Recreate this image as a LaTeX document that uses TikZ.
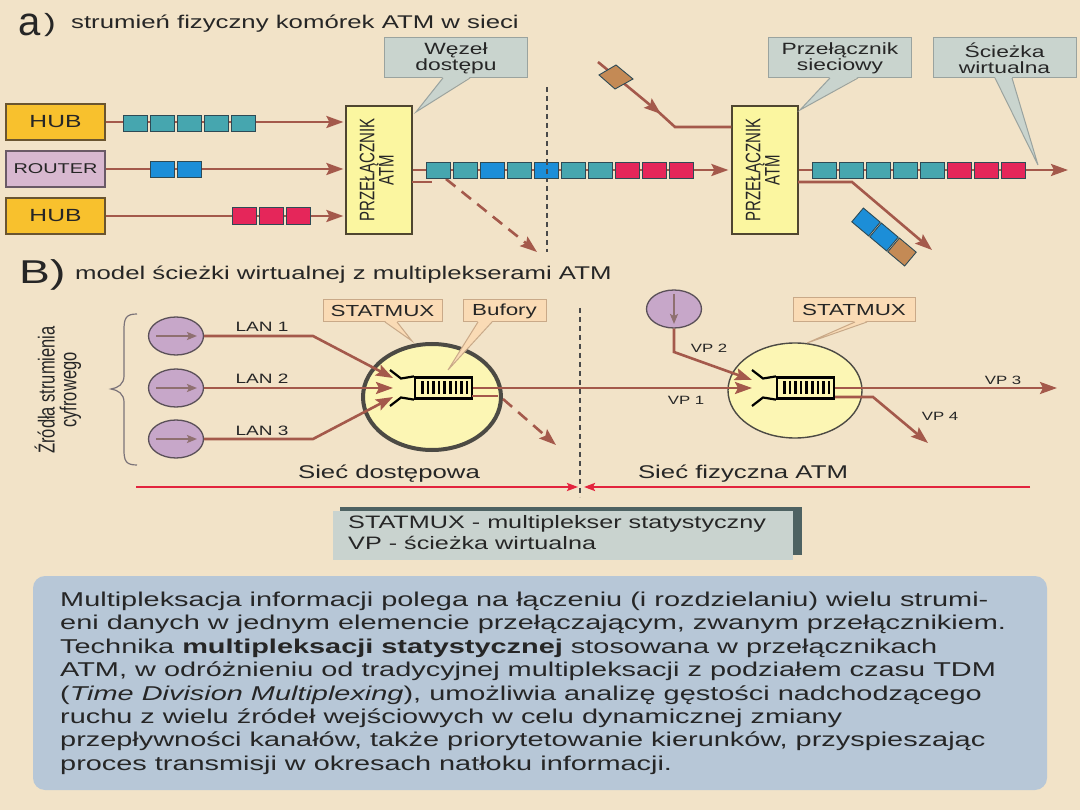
\documentclass[tikz,border=0pt]{standalone}
\usepackage{fontspec}
\usepackage{graphicx}
\setmainfont{Liberation Sans}[FakeStretch=1.4]
\newfontfamily\plainsans{Liberation Sans}
\usetikzlibrary{arrows.meta,shapes.geometric}
\definecolor{bg}{HTML}{F2E3C8}
\definecolor{txt}{HTML}{262626}
\definecolor{hubc}{HTML}{F8C12D}
\definecolor{hubd}{HTML}{6A5530}
\definecolor{routc}{HTML}{D8B8D0}
\definecolor{routd}{HTML}{6A5A66}
\definecolor{swc}{HTML}{FBF6A0}
\definecolor{swd}{HTML}{4F4630}
\definecolor{callc}{HTML}{C9D4CE}
\definecolor{calld}{HTML}{9AA39F}
\definecolor{flowc}{HTML}{A4594B}
\definecolor{celld}{HTML}{2E4A55}
\definecolor{tealc}{HTML}{46A6AF}
\definecolor{bluec}{HTML}{1C8ED8}
\definecolor{redc}{HTML}{E5265A}
\definecolor{brownc}{HTML}{C48A55}
\definecolor{srcc}{HTML}{C7A7C9}
\definecolor{srcd}{HTML}{5A5058}
\definecolor{srca}{HTML}{8F7070}
\definecolor{muxc}{HTML}{FCF6B4}
\definecolor{muxd}{HTML}{4C4A44}
\definecolor{peachc}{HTML}{FADBB5}
\definecolor{peachd}{HTML}{C9A988}
\definecolor{redl}{HTML}{E3243E}
\definecolor{legc}{HTML}{C9D3CF}
\definecolor{legs}{HTML}{4E6262}
\definecolor{boxc}{HTML}{B7C7D7}
\definecolor{dotc}{HTML}{4A4A4A}
\newcommand\fsz[2]{\fontsize{#1}{#2}\selectfont}
\newcommand\rotlab[1]{\scalebox{1}[1.4]{\begin{tabular}{@{}c@{}}#1\end{tabular}}}
\begin{document}
\begin{tikzpicture}[x=1pt,y=-1pt,
  every node/.style={text=txt, inner sep=0pt},
  hubbox/.style={draw=hubd, line width=1.3pt, fill=hubc, minimum width=99pt, minimum height=36pt, font=\fsz{17.6}{20}},
  routbox/.style={draw=routd, line width=1.3pt, fill=routc, minimum width=99pt, minimum height=36pt, font=\fsz{14.2}{16}},
  swbox/.style={draw=swd, line width=1.2pt, fill=swc, minimum width=66pt, minimum height=128pt},
  swlab/.style={rotate=90, font=\plainsans\fsz{15}{11.5}},
  callbox/.style={draw=calld, line width=1pt, fill=callc, minimum width=143pt, minimum height=40pt, align=center, font=\fsz{16.3}{16}},
  peachbox/.style={draw=peachd, line width=1pt, fill=peachc, minimum height=23pt, font=\fsz{16}{18}},
  cell/.style={draw=celld, line width=0.9pt, minimum width=24.5pt, minimum height=16.5pt},
  flow/.style={draw=flowc, line width=2.6pt},
  arr/.style={-{Stealth[length=17pt,width=12pt,inset=3pt]}},
  dashflow/.style={dash pattern=on 12pt off 8pt},
  dotline/.style={draw=dotc, line width=2pt, dash pattern=on 5pt off 4pt},
  src/.style={ellipse, draw=srcd, line width=1.3pt, fill=srcc, minimum width=55pt, minimum height=38pt},
  srcarr/.style={draw=srca, line width=2pt, -{Stealth[length=10pt,width=8pt,inset=2pt]}},
  buf/.style={draw=black, line width=2.2pt, fill=muxc, minimum width=57pt, minimum height=21pt},
  funnel/.style={draw=black, line width=2.2pt},
  lab/.style={font=\fsz{13.6}{15}},
  vplab/.style={font=\fsz{12}{14}},
  redline/.style={draw=redl, line width=2pt, -{Stealth[length=11pt,width=8pt,inset=2pt]}}
]
\fill[bg] (0,0) rectangle (1080,810);
\useasboundingbox (0,0) rectangle (1080,810);

% ---------- titles
\node[anchor=base west, font=\plainsans\fsz{40}{40}] (ta) at (18,36) {a};
\node[font=\fsz{25}{25}] (tap) at (50,25) {)};
\node[anchor=base west, font=\fsz{18.4}{20}] (tat) at (71,29) {strumień fizyczny komórek ATM w sieci};
\node[anchor=base west, font=\fsz{33}{33}] (tb) at (19,284) {B)};
\node[anchor=base west, font=\fsz{18.4}{20}] (tbt) at (75,280) {model ścieżki wirtualnej z multiplekserami ATM};

% ---------- part a
\node[hubbox] (hub1) at (55.5,122) {HUB};
\node[routbox] (rout) at (55.5,169) {ROUTER};
\node[hubbox] (hub2) at (55.5,216) {HUB};
\node[swbox] (sw1) at (379,170) {};
\node[swlab] (sw1l) at (sw1.center) {\rotlab{PRZEŁĄCZNIK\\ATM}};
\node[swbox] (sw2) at (765,170) {};
\node[swlab] (sw2l) at (sw2.center) {\rotlab{PRZEŁĄCZNIK\\ATM}};

\draw[flow,arr,shorten >=2pt] (hub1.east) -- (sw1.west |- hub1.east);
\draw[flow,arr,shorten >=2pt] (rout.east) -- (sw1.west |- rout.east);
\draw[flow,arr,shorten >=2pt] (hub2.east) -- (sw1.west |- hub2.east);
\draw[flow,arr,shorten >=3pt] (sw1.east) -- (sw2.west);
\coordinate (s1a) at (412,182);
\coordinate (s1b) at (432,182);
\draw[flow] (s1a) -- (s1b);
\coordinate (d1a) at (446,179);
\coordinate (d1b) at (537,252);
\draw[flow,dashflow,arr] (d1a) -- (d1b);
\draw[dotline] (547,87) -- (547,252);

% incoming diagonal to switch 2
\coordinate (ina) at (598,62);
\coordinate (inm) at (661,114);
\coordinate (inb) at (675,127);
\draw[flow] (658,111.5) -- (inb) -- (sw2.west |- inb);
\draw[flow,arr] (ina) -- (inm);
\filldraw[fill=brownc, draw=celld, line width=0.9pt] (616,65) -- (633,79) -- (615,89) -- (599,75) -- cycle;

% switch 2 outputs
\draw[flow,arr] (sw2.east) -- (1068,170);
\coordinate (s2a) at (798,182);
\coordinate (s2b) at (852,182);
\coordinate (s2c) at (932,250);
\draw[flow,arr] (s2a) -- (s2b) -- (s2c);

% cells
\foreach \i in {1,...,5} \node[cell,fill=tealc] (ca\i) at ({123+12.25+27*(\i-1)},123.5) {};
\foreach \i in {1,2} \node[cell,fill=bluec] (cb\i) at ({150+12.25+27*(\i-1)},169.5) {};
\foreach \i in {1,2,3} \node[cell,fill=redc] (cc\i) at ({232+12.25+27*(\i-1)},216) {};
\foreach \c [count=\i] in {tealc,tealc,bluec,tealc,bluec,tealc,tealc,redc,redc,redc}
  \node[cell,fill=\c,minimum height=16pt] (co\i) at ({426+12.25+27*(\i-1)},170) {};
\draw[dotline] (547,160) -- (547,181);
\foreach \c [count=\i] in {tealc,tealc,tealc,tealc,tealc,redc,redc,redc}
  \node[cell,fill=\c,minimum height=16pt] (cp\i) at ({812+12.25+27*(\i-1)},170) {};
\node[cell,fill=bluec,rotate=-40,minimum width=22pt,minimum height=18pt] (cq1) at (866,222) {};
\node[cell,fill=bluec,rotate=-40,minimum width=22pt,minimum height=18pt] (cq2) at (884,237) {};
\node[cell,fill=brownc,rotate=-40,minimum width=22pt,minimum height=18pt] (cq3) at (902,252) {};

% callouts
\node[callbox] (wez) at (456,58) {Węzeł\\dostępu};
\coordinate (wezt) at (416,112);
\fill[callc] (443,77) -- (wezt) -- (470,77) -- cycle;
\draw[calld, line width=1pt] (443,78) -- (wezt) -- (470,78);
\node[callbox] (prz) at (840,58) {Przełącznik\\sieciowy};
\coordinate (przt) at (800,110);
\fill[callc] (830,77) -- (przt) -- (858,77) -- cycle;
\draw[calld, line width=1pt] (830,78) -- (przt) -- (858,78);
\node[callbox] (sci) at (1004.5,58) {Ścieżka\\wirtualna};
\coordinate (scit) at (1038,165);
\fill[callc] (995,77) -- (scit) -- (1012,77) -- cycle;
\draw[calld, line width=1pt] (995,78) -- (scit) -- (1012,78);

% ---------- part B
\draw[draw=srcd!80, line width=1.2pt] (137,314) .. controls (126,314) and (124,318) .. (124,330) -- (124,376) .. controls (124,384) and (118,388) .. (111,389) .. controls (118,390) and (124,394) .. (124,402) -- (124,450) .. controls (124,461) and (126,465) .. (137,465);
\node[rotate=90, font=\plainsans\fsz{16.5}{12}] (zr) at (58,390) {\rotlab{Źródła strumienia\\cyfrowego}};

\node[src] (s1) at (176,336) {};
\node[src] (s2) at (176,388) {};
\node[src] (s3) at (176,439) {};
\foreach \s in {s1,s2,s3} \draw[srcarr] ([xshift=-20pt]\s.center) -- ([xshift=21pt]\s.center);

\node[ellipse, draw=muxd, line width=4pt, fill=muxc, minimum width=138pt, minimum height=106pt] (m1) at (432,397) {};
\node[ellipse, draw=muxd, line width=1.4pt, fill=muxc, minimum width=134pt, minimum height=95pt] (m2) at (795,390.5) {};

\coordinate (l1a) at (313,336);
\coordinate (l3a) at (313,439);
\coordinate (mo1a) at (393,378);
\coordinate (mo1b) at (393,388);
\coordinate (mo1c) at (393,397);
\draw[flow,arr] (s1.east) -- (l1a) -- (mo1a);
\draw[flow,arr] (s2.east) -- (mo1b);
\draw[flow,arr] (s3.east) -- (l3a) -- (mo1c);

\node[buf] (b1) at (443.5,388) {};
\draw[funnel] (390,370) -- (401,378.5) -- (b1.north west);
\draw[funnel] (390,406) -- (401,397.5) -- (b1.south west);
\foreach \k in {0,...,8} \fill[black] ({421+5.6*\k},381.5) rectangle ++(2.6,13);

\node[buf] (b2) at (805.5,388) {};
\draw[funnel] (752,370) -- (763,378.5) -- (b2.north west);
\draw[funnel] (752,406) -- (763,397.5) -- (b2.south west);
\foreach \k in {0,...,8} \fill[black] ({783+5.6*\k},381.5) rectangle ++(2.6,13);

\coordinate (mo2b) at (752,388);
\coordinate (mo2a) at (752,380);
\draw[flow,arr] (b1.east) -- (mo2b);
\coordinate (st1a) at (472,396);
\coordinate (st1b) at (498,396);
\draw[flow] (st1a) -- (st1b);
\coordinate (d2a) at (503,399);
\coordinate (d2b) at (556,445);
\draw[flow,dashflow,arr] (d2a) -- (d2b);

\node[src] (s4) at (674,309) {};
\draw[srcarr] ([yshift=15pt]s4.center) -- ([yshift=-15pt]s4.center);
\coordinate (v2a) at (674,352);
\draw[flow,arr] (s4.south) -- (v2a) -- (mo2a);
\coordinate (v3e) at (1057,388);
\draw[flow,arr] (b2.east) -- (v3e);
\coordinate (v4a) at (835,397);
\coordinate (v4b) at (873,397);
\coordinate (v4c) at (928,443);
\draw[flow,arr] (v4a) -- (v4b) -- (v4c);

\node[lab] (lan1) at (262,327) {LAN 1};
\node[lab] (lan2) at (262,379) {LAN 2};
\node[lab] (lan3) at (262,431) {LAN 3};
\node[vplab] (vp2) at (709,348) {VP 2};
\node[vplab] (vp1) at (686,400) {VP 1};
\node[vplab] (vp3) at (1003,380) {VP 3};
\node[vplab] (vp4) at (940,416) {VP 4};

% peach labels
\node[peachbox, minimum width=119pt, minimum height=22pt] (stm1) at (382.5,311) {STATMUX};
\coordinate (stm1t) at (412,341);
\fill[peachc] (385,321) -- (stm1t) -- (397,321) -- cycle;
\draw[peachd, line width=1pt] (385,322) -- (stm1t) -- (397,322);
\node[peachbox, minimum width=83pt, minimum height=22pt] (bufl) at (504.5,311) {Bufory};
\coordinate (buflt) at (448,370);
\fill[peachc] (478,321) -- (buflt) -- (492,321) -- cycle;
\draw[peachd, line width=1pt] (478,322) -- (buflt) -- (492,322);
\node[peachbox, minimum width=122pt, minimum height=24pt] (stm2) at (854,310) {STATMUX};
\coordinate (stm2t) at (807,343);
\fill[peachc] (855,321) -- (stm2t) -- (867,321) -- cycle;
\draw[peachd, line width=1pt] (855,322) -- (stm2t) -- (867,322);

% network division
\draw[dotline] (580,308) -- (580,497);
\coordinate (ra) at (136,487);
\coordinate (rb) at (578,487);
\coordinate (rc) at (1030,487);
\coordinate (rd) at (584,487);
\draw[redline] (ra) -- (rb);
\draw[redline] (rc) -- (rd);
\node[font=\fsz{18.4}{20}] (sd) at (389,474) {Sieć dostępowa};
\node[font=\fsz{18.4}{20}] (sf) at (743,474) {Sieć fizyczna ATM};

% legend
\fill[legs] (340,507) rectangle (802,555);
\node[fill=legc, minimum width=460pt, minimum height=49pt] (leg) at (563,535.5) {};
\node[anchor=west, align=left, font=\fsz{18}{21}] (legt) at (348,532.5) {STATMUX - multiplekser statystyczny\\VP - ścieżka wirtualna};

% text box
\node[fill=boxc, rounded corners=12pt, minimum width=1014pt, minimum height=214pt] (tbox) at (540,683) {};
\node[anchor=north west] (tboxt) at (60,590) {\fsz{20}{23.4}\resizebox*{946pt}{\totalheight}{\begin{tabular}{@{}l@{}}
Multipleksacja informacji polega na łączeniu (i rozdzielaniu) wielu strumi-\\
eni danych w jednym elemencie przełączającym, zwanym przełącznikiem.\\
Technika \textbf{multipleksacji statystycznej} stosowana w przełącznikach\\
ATM, w odróżnieniu od tradycyjnej multipleksacji z podziałem czasu TDM\\
(\textit{Time Division Multiplexing}), umożliwia analizę gęstości nadchodzącego\\
ruchu z wielu źródeł wejściowych w celu dynamicznej zmiany\\
przepływności kanałów, także priorytetowanie kierunków, przyspieszając\\
proces transmisji w okresach natłoku informacji.
\end{tabular}}};
\end{tikzpicture}
\end{document}
